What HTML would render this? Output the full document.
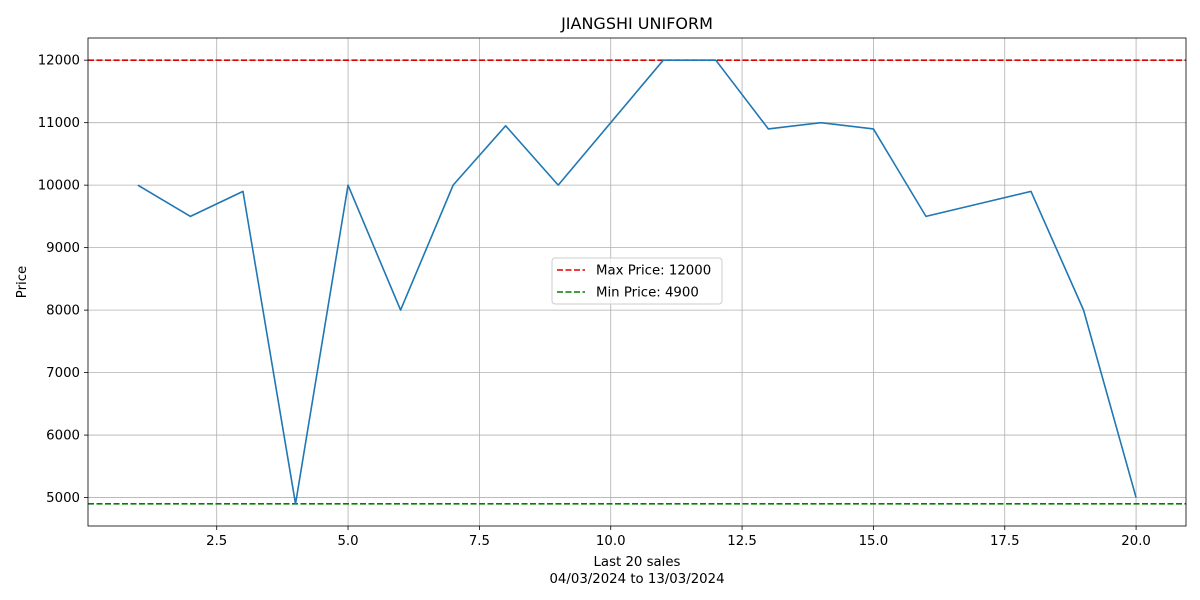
<!DOCTYPE html>
<html><head><meta charset="utf-8"><style>
body{margin:0;background:#fff;}
svg{display:block;font-family:"DejaVu Sans","Liberation Sans",sans-serif;}
</style></head><body>
<svg id="chart" width="1200" height="600"></svg>
<script>
const xValues=[1,2,3,4,5,6,7,8,9,10,11,12,13,14,15,16,17,18,19,20];
const prices=[10000,9500,9900,4900,10000,8000,10000,10950,10000,11000,12000,12000,10900,11000,10900,9500,9700,9900,8000,5000];
const xTicks=[2.5,5.0,7.5,10.0,12.5,15.0,17.5,20.0];
const xTickLabels=["2.5","5.0","7.5","10.0","12.5","15.0","17.5","20.0"];
const yTicks=[5000,6000,7000,8000,9000,10000,11000,12000];
const maxPrice=12000, minPrice=4900;
const L=88,R=1186,T=38,B=526;
const xmin=0.05,xmax=20.95,ymin=4545,ymax=12355;
const sx=v=>L+(v-xmin)/(xmax-xmin)*(R-L);
const sy=v=>B-(v-ymin)/(ymax-ymin)*(B-T);
const svg=document.getElementById('chart');
const NS='http://www.w3.org/2000/svg';
function mk(t,a,txt){const e=document.createElementNS(NS,t);for(const k in a)e.setAttribute(k,a[k]);if(txt!==undefined)e.textContent=txt;svg.appendChild(e);return e;}
xTicks.forEach((v,i)=>{
 const g=mk('line',{x1:sx(v),x2:sx(v),y1:T,y2:B,stroke:'#b0b0b0','stroke-width':0.8});
 
 
 mk('line',{x1:sx(v),x2:sx(v),y1:B,y2:B+4,stroke:'#000','stroke-width':0.8});
 const t=mk('text',{x:sx(v),y:B+19,'text-anchor':'middle','font-size':13.3},xTickLabels[i]);
 
 
});
yTicks.forEach(v=>{
 const g=mk('line',{x1:L,x2:R,y1:sy(v),y2:sy(v),stroke:'#b0b0b0','stroke-width':0.8});
 
 
 mk('line',{x1:L-4,x2:L,y1:sy(v),y2:sy(v),stroke:'#000','stroke-width':0.8});
 const t=mk('text',{x:L-8,y:sy(v)+4.5,'text-anchor':'end','font-size':13.3},String(v));
 
 
});
const mx=mk('line',{x1:L,x2:R,y1:sy(maxPrice),y2:sy(maxPrice),stroke:'#e00000','stroke-width':1.6,'stroke-dasharray':'6,2.5'});


const mn=mk('line',{x1:L,x2:R,y1:sy(minPrice),y2:sy(minPrice),stroke:'#008000','stroke-width':1.6,'stroke-dasharray':'6,2.5'});


const pl=mk('polyline',{points:xValues.map((x,i)=>sx(x)+','+sy(prices[i])).join(' '),fill:'none',stroke:'#1f77b4','stroke-width':1.6,'stroke-linejoin':'round'});


const fr=mk('rect',{x:L,y:T,width:R-L,height:B-T,fill:'none',stroke:'#000','stroke-width':0.8});


const title=mk('text',{x:(L+R)/2,y:29,'text-anchor':'middle','font-size':16},'JIANGSHI UNIFORM');


const xl=mk('text',{x:(L+R)/2,y:566,'text-anchor':'middle','font-size':13.3},'Last 20 sales');


const xl2=mk('text',{x:(L+R)/2,y:583,'text-anchor':'middle','font-size':13.3},'04/03/2024 to 13/03/2024');


const yl=mk('text',{x:0,y:0,'text-anchor':'middle','font-size':13.3,transform:'translate(26,'+((T+B)/2)+') rotate(-90)'},'Price');


const lg=mk('rect',{x:552,y:258,width:170,height:46,rx:3,fill:'#fff','fill-opacity':0.8,stroke:'#ccc','stroke-width':1});


[['#e00000','Max Price: 12000',270],['#008000','Min Price: 4900',292]].forEach(([c,t,y])=>{
 mk('line',{x1:557,x2:585,y1:y,y2:y,stroke:c,'stroke-width':1.6,'stroke-dasharray':'6,2.5'});
 const e=mk('text',{x:596,y:y+4.5,'font-size':13.3},t);
 
 
});
</script>
</body></html>
